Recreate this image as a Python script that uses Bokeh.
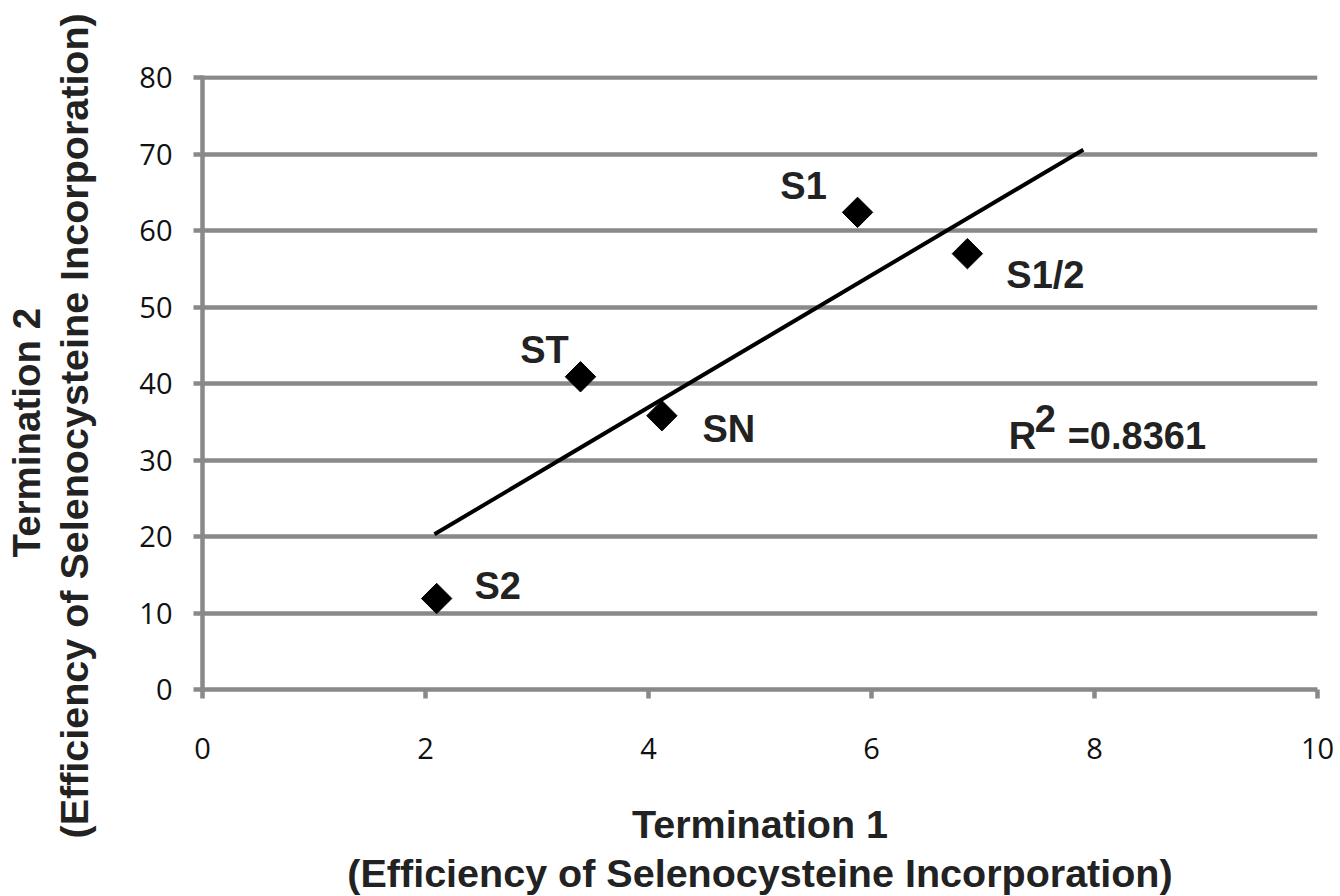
import math
from bokeh.plotting import figure
from bokeh.models import LabelSet, Range1d, FixedTicker, ColumnDataSource, Title
from bokeh.core.properties import value
from bokeh.embed import file_html
from bokeh.resources import INLINE

# ---- data ----
sample_names = ["S2", "ST", "SN", "S1", "S1/2"]
termination1 = [2.10, 3.39, 4.12, 5.875, 6.86]
termination2 = [11.9, 40.9, 35.8, 62.4, 57.0]
trend_x = [2.08, 7.90]
trend_y = [20.3, 70.6]
x_ticks = [0, 2, 4, 6, 8, 10]
y_ticks = [0, 10, 20, 30, 40, 50, 60, 70, 80]
r_squared = "0.8361"
x_title = ["Termination 1", "(Efficiency of Selenocysteine Incorporation)"]
y_title = ["Termination 2", "(Efficiency of Selenocysteine Incorporation)"]

# ---- layout (pixel offsets of the point labels; positive dy = up) ----
label_dx = [61, -36, 67, -54, 78]
label_dy = [0, 14, -26, 13, -34]

GRAY = "#898989"
TXT = "#222222"
BOLD = "Liberation Sans"

p = figure(width=1338, height=896, output_backend="svg", toolbar_location=None,
           x_range=Range1d(0, 10), y_range=Range1d(0, 80.3),
           min_border_left=201, min_border_right=21, min_border_top=75,
           min_border_bottom=207)
p.outline_line_color = None
p.background_fill_color = "white"
p.border_fill_color = "white"

# grid
p.xgrid.grid_line_color = None
p.ygrid.ticker = FixedTicker(ticks=y_ticks)
p.ygrid.grid_line_color = GRAY
p.ygrid.grid_line_width = 4.5

# axes
for ax in (p.xaxis[0], p.yaxis[0]):
    ax.axis_line_color = GRAY
    ax.axis_line_width = 4.5
    ax.major_tick_line_color = GRAY
    ax.major_tick_line_width = 4.5
    ax.major_tick_out = 9
    ax.major_tick_in = 0
    ax.minor_tick_line_color = None
    ax.major_label_text_font = "Open Sans"
    ax.major_label_text_font_size = "29px"
    ax.major_label_text_color = "#111111"
    ax.axis_label_text_font = BOLD
    ax.axis_label_text_font_style = "bold"
    ax.axis_label_text_color = TXT
p.xaxis.ticker = FixedTicker(ticks=x_ticks)
p.yaxis.ticker = FixedTicker(ticks=y_ticks)
p.xaxis.major_label_standoff = 39
p.yaxis.major_label_standoff = 21

# x title: first line as the axis label, second line as a title below it
p.xaxis.axis_label = x_title[0]
p.xaxis.axis_label_text_font_size = "39.5px"
p.xaxis.axis_label_standoff = 40
p.add_layout(Title(text=x_title[1], align="center", vertical_align="bottom", standoff=0,
                   text_font=BOLD, text_font_style="bold", text_font_size="39.5px",
                   text_color=TXT), "below")

# y title: hidden axis label only reserves the gap; two titles set below centre
p.yaxis.axis_label = y_title[0]
p.yaxis.axis_label_text_font_size = "20px"
p.yaxis.axis_label_text_color = None
p.yaxis.axis_label_standoff = 16
for txt, stand, off, fs in ((y_title[1], 0, -149, "39.5px"), (y_title[0], 4, 132, "38.5px")):
    p.add_layout(Title(text=txt, align="left", vertical_align="bottom", offset=off,
                       standoff=stand, text_font=BOLD, text_font_style="bold",
                       text_font_size=fs, text_color=TXT), "left")

# trend line and points
p.line(trend_x, trend_y, line_color="black", line_width=4)
src = ColumnDataSource(dict(x=termination1, y=termination2, name=sample_names,
                            dx=label_dx, dy=label_dy))
p.scatter("x", "y", source=src, marker="square", size=21.5, angle=math.pi / 4,
          fill_color="black", line_color="black")

p.add_layout(LabelSet(x="x", y="y", text="name", source=src, x_offset="dx", y_offset="dy",
                      text_font=value(BOLD), text_font_style="bold",
                      text_font_size="38px", text_color=TXT,
                      text_align="center", text_baseline="alphabetic"))

# R^2 annotation (R, superscript 2, value)
r_src = ColumnDataSource(dict(x=[7.23] * 3, y=[31.4] * 3,
                              t=["R", "2", "=" + r_squared],
                              dx=[0, 26, 59], dy=[0, 17, 0]))
p.add_layout(LabelSet(x="x", y="y", text="t", source=r_src, x_offset="dx", y_offset="dy",
                      text_font=value(BOLD), text_font_style="bold",
                      text_font_size="38px", text_color=TXT,
                      text_align="left", text_baseline="alphabetic"))

open("out.html", "w").write(file_html(p, INLINE))
